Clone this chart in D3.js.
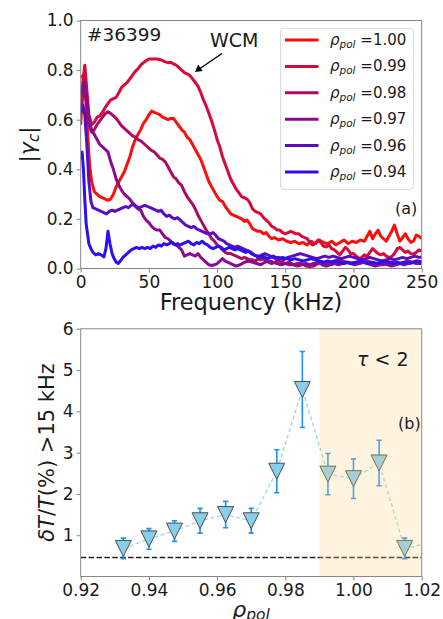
<!DOCTYPE html>
<html><head><meta charset="utf-8">
<script src="https://cdn.jsdelivr.net/npm/d3@7"></script>
<style>
body{margin:0;background:#fff}
svg{display:block}
text{font-family:"DejaVu Sans",sans-serif;fill:#1a1a1a}
</style>
</head><body>
<svg id="c" width="443" height="619"></svg>
<script>
// ---------- Panel (a) data: |gamma_c| vs frequency (kHz) ----------
const rho100 = [[0,0.77],[2,0.78],[3.5,0.70],[5,0.55],[6.5,0.42],[8,0.35],[10,0.31],[12,0.30],[14,0.29],[16,0.285],[18,0.28],[20,0.275],[22,0.28],[24,0.30],[26,0.33],[28,0.35],[30,0.37],[32,0.39],[34,0.42],[36,0.45],[38,0.49],[40,0.52],[42,0.54],[44,0.56],[46,0.585],[48,0.60],[50,0.62],[52,0.635],[54,0.63],[56,0.625],[58,0.62],[60,0.61],[62,0.605],[64,0.60],[66,0.605],[68,0.605],[70,0.59],[72,0.575],[74,0.56],[76,0.55],[78,0.53],[80,0.52],[82,0.50],[84,0.48],[86,0.46],[88,0.44],[90,0.41],[92,0.38],[94,0.35],[96,0.33],[98,0.31],[100,0.29],[102,0.275],[104,0.27],[106,0.25],[108,0.235],[110,0.22],[112,0.215],[114,0.21],[116,0.205],[118,0.20],[120,0.19],[122,0.195],[124,0.18],[126,0.16],[128,0.155],[130,0.15],[132,0.15],[134,0.14],[136,0.145],[138,0.13],[140,0.12],[142,0.125],[145,0.115],[148,0.12],[151,0.11],[154,0.105],[157,0.11],[160,0.10],[163,0.105],[166,0.095],[169,0.11],[172,0.10],[175,0.115],[178,0.105],[181,0.10],[184,0.11],[187,0.095],[190,0.105],[193,0.115],[196,0.10],[199,0.11],[202,0.105],[205,0.115],[208,0.11],[210,0.13],[212,0.15],[214,0.12],[216,0.14],[218,0.155],[220,0.13],[222,0.12],[224,0.11],[226,0.13],[228,0.15],[230,0.175],[232,0.14],[234,0.11],[236,0.125],[238,0.14],[240,0.12],[242,0.105],[244,0.11],[246,0.135],[248,0.13],[250,0.12]];
const rho099 = [[0,0.58],[1.5,0.75],[3,0.82],[4.5,0.72],[6,0.62],[8,0.58],[10,0.59],[12,0.61],[14,0.615],[16,0.63],[18,0.65],[20,0.665],[22,0.68],[24,0.685],[26,0.69],[28,0.71],[30,0.73],[32,0.74],[34,0.75],[36,0.765],[38,0.78],[40,0.795],[42,0.805],[44,0.82],[46,0.83],[48,0.838],[50,0.845],[52,0.845],[54,0.845],[56,0.845],[58,0.843],[60,0.838],[62,0.833],[64,0.83],[66,0.832],[68,0.825],[70,0.82],[72,0.81],[74,0.80],[76,0.79],[78,0.785],[80,0.778],[82,0.765],[84,0.75],[86,0.735],[88,0.71],[90,0.68],[92,0.655],[94,0.625],[96,0.595],[98,0.56],[100,0.52],[102,0.49],[104,0.45],[106,0.42],[108,0.39],[110,0.36],[112,0.34],[114,0.32],[116,0.305],[118,0.29],[120,0.285],[122,0.28],[124,0.265],[126,0.24],[128,0.23],[130,0.225],[132,0.22],[134,0.205],[136,0.195],[138,0.185],[140,0.17],[142,0.165],[144,0.155],[146,0.155],[148,0.145],[150,0.14],[152,0.145],[154,0.15],[156,0.145],[158,0.14],[160,0.14],[162,0.13],[164,0.125],[166,0.12],[168,0.105],[170,0.095],[172,0.10],[174,0.115],[176,0.105],[178,0.09],[180,0.087],[182,0.095],[184,0.08],[186,0.075],[188,0.065],[190,0.055],[192,0.07],[194,0.085],[196,0.075],[198,0.06],[200,0.06],[202,0.05],[204,0.04],[206,0.045],[208,0.055],[210,0.05],[212,0.065],[214,0.08],[216,0.07],[218,0.06],[220,0.055],[222,0.06],[224,0.05],[226,0.045],[228,0.048],[230,0.06],[232,0.08],[234,0.085],[236,0.075],[238,0.065],[240,0.07],[242,0.06],[244,0.058],[246,0.065],[248,0.075],[250,0.07]];
const rho098 = [[0,0.62],[1.5,0.70],[3,0.72],[4.5,0.66],[6,0.58],[8,0.55],[10,0.56],[12,0.58],[14,0.595],[16,0.61],[18,0.625],[20,0.632],[22,0.625],[24,0.615],[26,0.605],[28,0.59],[30,0.575],[32,0.565],[34,0.555],[36,0.545],[38,0.535],[40,0.53],[42,0.52],[44,0.515],[46,0.505],[48,0.495],[50,0.485],[52,0.475],[54,0.47],[56,0.458],[58,0.445],[60,0.44],[62,0.43],[64,0.41],[66,0.39],[68,0.37],[70,0.36],[72,0.345],[74,0.335],[76,0.31],[78,0.29],[80,0.275],[82,0.26],[84,0.24],[86,0.215],[88,0.195],[90,0.175],[92,0.155],[94,0.14],[96,0.12],[98,0.11],[100,0.095],[102,0.087],[104,0.075],[106,0.065],[108,0.06],[110,0.06],[112,0.055],[114,0.05],[116,0.045],[118,0.04],[120,0.045],[122,0.04],[124,0.035],[126,0.035],[128,0.03],[130,0.04],[132,0.035],[134,0.04],[136,0.03],[138,0.025],[140,0.02],[142,0.025],[144,0.03],[146,0.03],[148,0.025],[150,0.02],[153,0.015],[156,0.015],[159,0.02],[162,0.02],[165,0.01],[168,0.008],[171,0.01],[174,0.02],[177,0.025],[180,0.02],[183,0.025],[186,0.03],[189,0.035],[192,0.03],[195,0.025],[198,0.02],[201,0.025],[204,0.02],[207,0.025],[210,0.03],[213,0.025],[216,0.02],[219,0.015],[222,0.015],[225,0.02],[228,0.025],[231,0.02],[234,0.02],[237,0.025],[240,0.03],[243,0.025],[246,0.03],[250,0.025]];
const rho097 = [[0,0.70],[1.5,0.74],[3,0.75],[4.5,0.68],[6,0.60],[8,0.56],[10,0.54],[12,0.52],[14,0.50],[16,0.49],[18,0.48],[20,0.47],[22,0.43],[24,0.40],[26,0.36],[28,0.335],[30,0.315],[32,0.30],[34,0.29],[36,0.28],[38,0.265],[40,0.25],[42,0.24],[44,0.235],[46,0.21],[48,0.195],[50,0.185],[52,0.17],[54,0.16],[56,0.155],[58,0.155],[60,0.14],[62,0.125],[64,0.12],[66,0.11],[68,0.10],[70,0.095],[72,0.085],[74,0.075],[76,0.05],[78,0.055],[80,0.06],[82,0.055],[84,0.05],[86,0.06],[88,0.045],[90,0.035],[92,0.025],[94,0.015],[96,0.012],[98,0.015],[100,0.02],[102,0.03],[104,0.04],[106,0.03],[108,0.025],[110,0.02],[112,0.015],[114,0.01],[117,0.015],[120,0.025],[123,0.03],[126,0.025],[129,0.02],[132,0.015],[135,0.025],[138,0.03],[141,0.025],[144,0.02],[147,0.015],[150,0.02],[153,0.025],[156,0.015],[159,0.01],[162,0.015],[165,0.02],[168,0.015],[171,0.02],[174,0.025],[177,0.015],[180,0.01],[183,0.015],[186,0.02],[189,0.015],[192,0.02],[195,0.025],[198,0.02],[201,0.015],[204,0.02],[207,0.025],[210,0.02],[213,0.015],[216,0.01],[219,0.015],[222,0.02],[225,0.015],[228,0.01],[231,0.015],[234,0.02],[237,0.015],[240,0.02],[243,0.025],[246,0.02],[250,0.02]];
const rho096 = [[0,0.63],[1.5,0.66],[3,0.62],[4.5,0.50],[6,0.35],[7.5,0.27],[9,0.245],[11,0.24],[13,0.235],[15,0.23],[17,0.225],[19,0.22],[21,0.23],[23,0.235],[25,0.23],[27,0.235],[29,0.24],[31,0.245],[33,0.25],[35,0.245],[37,0.255],[39,0.26],[41,0.25],[43,0.245],[45,0.25],[47,0.255],[49,0.25],[51,0.245],[53,0.24],[55,0.235],[57,0.23],[59,0.235],[61,0.22],[63,0.21],[65,0.215],[67,0.205],[69,0.20],[71,0.205],[73,0.195],[75,0.185],[77,0.175],[79,0.17],[81,0.165],[83,0.17],[85,0.16],[87,0.155],[89,0.15],[91,0.145],[93,0.14],[95,0.14],[97,0.145],[99,0.135],[101,0.12],[103,0.115],[105,0.11],[107,0.10],[109,0.095],[111,0.09],[113,0.085],[115,0.09],[117,0.085],[119,0.08],[121,0.075],[123,0.07],[125,0.065],[127,0.055],[129,0.05],[131,0.05],[133,0.055],[135,0.06],[137,0.055],[139,0.05],[141,0.045],[143,0.04],[145,0.045],[147,0.04],[149,0.035],[152,0.045],[155,0.05],[158,0.055],[161,0.06],[164,0.055],[167,0.05],[170,0.045],[173,0.04],[176,0.045],[179,0.05],[182,0.045],[185,0.05],[188,0.045],[191,0.04],[194,0.045],[197,0.05],[200,0.045],[203,0.04],[206,0.035],[209,0.04],[212,0.045],[215,0.04],[218,0.035],[221,0.03],[224,0.035],[227,0.04],[230,0.035],[233,0.04],[236,0.045],[239,0.04],[242,0.045],[245,0.05],[248,0.045],[250,0.045]];
const rho094 = [[0,0.44],[1,0.47],[2,0.40],[3,0.28],[4,0.18],[5,0.14],[6,0.10],[7.5,0.08],[9,0.065],[11,0.055],[13,0.06],[15,0.055],[17,0.047],[18.5,0.08],[20,0.15],[21.5,0.10],[23,0.06],[24.5,0.04],[26,0.025],[27.5,0.02],[29,0.03],[31,0.045],[33,0.055],[35,0.065],[37,0.075],[39,0.08],[41,0.085],[43,0.08],[45,0.085],[47,0.08],[49,0.085],[51,0.08],[53,0.09],[55,0.085],[57,0.095],[59,0.09],[61,0.10],[63,0.095],[65,0.10],[67,0.105],[69,0.095],[71,0.10],[73,0.095],[75,0.10],[77,0.105],[79,0.11],[81,0.10],[83,0.095],[85,0.105],[87,0.10],[89,0.11],[91,0.10],[93,0.095],[95,0.085],[97,0.08],[99,0.085],[101,0.09],[103,0.085],[105,0.075],[107,0.08],[109,0.085],[111,0.08],[113,0.075],[115,0.08],[117,0.075],[119,0.07],[121,0.065],[123,0.07],[125,0.06],[127,0.055],[129,0.05],[131,0.045],[133,0.05],[135,0.045],[137,0.04],[139,0.045],[141,0.05],[143,0.045],[145,0.04],[148,0.045],[151,0.04],[154,0.035],[157,0.04],[160,0.035],[163,0.03],[166,0.035],[169,0.04],[172,0.035],[175,0.03],[178,0.025],[181,0.03],[184,0.025],[187,0.03],[190,0.025],[193,0.02],[196,0.025],[199,0.02],[202,0.025],[205,0.03],[208,0.025],[211,0.02],[214,0.025],[217,0.02],[220,0.025],[223,0.03],[226,0.025],[229,0.02],[232,0.025],[235,0.02],[238,0.025],[241,0.02],[244,0.025],[247,0.03],[250,0.025]];
const seriesA = [rho100, rho099, rho098, rho097, rho096, rho094];
const legendLabels = ["1.00","0.99","0.98","0.97","0.96","0.94"];
const lineColors = ["#ff0d0d","#d9093a","#ad0a62","#890c8e","#5a0cc2","#2a10f2"];
const freqTicks = [0,50,100,150,200,250];
const gammaTicks = [0,0.2,0.4,0.6,0.8,1.0];

// ---------- Panel (b) data ----------
const rhoPol = [0.9325,0.94,0.9475,0.955,0.9625,0.97,0.9775,0.985,0.9925,1.0,1.0075,1.015,1.0225];
const dTT    = [0.68,0.91,1.10,1.35,1.50,1.35,2.55,4.53,2.48,2.37,2.75,0.68,0.82];
const dTTerr = [0.25,0.25,0.25,0.30,0.32,0.30,0.52,0.92,0.50,0.48,0.55,0.25,0.20];
const noiseLevel = 0.46;
const tauStart = 0.99;
const rhoTicks = [0.92,0.94,0.96,0.98,1.00,1.02];
const dTTicks = [1,2,3,4,5,6];

const svg = d3.select("#c");
const defs = svg.append("defs");

// ===== Panel (a) =====
const A = {l:80.7, r:421.7, t:20.5, b:268.5};
const xA = d3.scaleLinear().domain([0,250]).range([A.l, A.r]);
const yA = d3.scaleLinear().domain([0,1]).range([A.b, A.t]);
defs.append("clipPath").attr("id","clipA").append("rect")
  .attr("x",A.l).attr("y",A.t).attr("width",A.r-A.l).attr("height",A.b-A.t);

const gA = svg.append("g");
const line = d3.line().x(d=>xA(d[0])).y(d=>yA(d[1]));
const cA = gA.append("g").attr("clip-path","url(#clipA)");
seriesA.forEach((s,i)=>{
  cA.append("path").datum(s).attr("d",line).attr("fill","none")
    .attr("stroke",lineColors[i]).attr("stroke-width",3)
    .attr("stroke-linejoin","round").attr("stroke-linecap","butt");
});

function styleAxis(g){
  g.select(".domain").remove();
  g.selectAll(".tick line").attr("stroke","#777").attr("stroke-width",0.9);
  g.selectAll(".tick text").attr("font-size","17px").attr("fill","#1a1a1a")
    .attr("font-family","DejaVu Sans");
}
gA.append("g").attr("transform",`translate(0,${A.b})`)
  .call(d3.axisBottom(xA).tickValues(freqTicks).tickFormat(d3.format("d")).tickSize(4).tickPadding(3))
  .call(styleAxis);
gA.append("g").attr("transform",`translate(${A.l},0)`)
  .call(d3.axisLeft(yA).tickValues(gammaTicks).tickFormat(d3.format(".1f")).tickSize(4).tickPadding(3))
  .call(styleAxis);
gA.append("rect").attr("x",A.l).attr("y",A.t).attr("width",A.r-A.l).attr("height",A.b-A.t)
  .attr("fill","none").attr("stroke","#888").attr("stroke-width",1);

// Legend
const lg = gA.append("g");
lg.append("rect").attr("x",280.7).attr("y",28.3).attr("width",132.6).attr("height",161)
  .attr("rx",3).attr("fill","#fff").attr("fill-opacity",0.8).attr("stroke","#d6d6d6").attr("stroke-width",1);
legendLabels.forEach((lab,i)=>{
  const y = 40 + i*26.4;
  lg.append("line").attr("x1",285).attr("x2",318.5).attr("y1",y).attr("y2",y)
    .attr("stroke",lineColors[i]).attr("stroke-width",3);
  const t = lg.append("text").attr("x",330).attr("y",y+5).attr("font-size","15px");
  t.append("tspan").attr("font-style","italic").text("ρ");
  t.append("tspan").attr("font-style","italic").attr("font-size","10.5px").attr("dy",3).text("pol");
  t.append("tspan").attr("dy",-3).text(" =" + lab);
});

// annotations
gA.append("text").attr("x",87).attr("y",41).attr("font-size","18.5px").text("#36399");
gA.append("text").attr("x",210).attr("y",47).attr("font-size","19px").text("WCM");
gA.append("line").attr("x1",222).attr("y1",53.5).attr("x2",200).attr("y2",68.5)
  .attr("stroke","#000").attr("stroke-width",1.5);
gA.append("path").attr("d","M195,72 L198.2,64.6 L202.6,71 Z").attr("fill","#000");
gA.append("text").attr("x",395).attr("y",214).attr("font-size","16px").text("(a)");

// axis labels
gA.append("text").attr("x",251).attr("y",309.5).attr("text-anchor","middle")
  .attr("font-size","22.5px").text("Frequency (kHz)");
const ylA = gA.append("text").attr("transform","translate(35,144.5) rotate(-90)")
  .attr("text-anchor","middle").attr("font-size","22px");
ylA.append("tspan").text("|");
ylA.append("tspan").attr("font-style","italic").text("γ");
ylA.append("tspan").attr("font-style","italic").attr("font-size","15px").attr("dy",4).text("c");
ylA.append("tspan").attr("dy",-4).text("|");

// ===== Panel (b) =====
const B = {l:80.7, r:421.7, t:328.8, b:576.5};
const xB = d3.scaleLinear().domain([0.92,1.02]).range([B.l, B.r]);
const yB = d3.scaleLinear().domain([0,6]).range([B.b, B.t]);
defs.append("clipPath").attr("id","clipB").append("rect")
  .attr("x",B.l).attr("y",B.t).attr("width",B.r-B.l).attr("height",B.b-B.t);
const gB = svg.append("g");
const cB = gB.append("g").attr("clip-path","url(#clipB)");

// noise level dashed line
cB.append("line").attr("x1",xB(0.92)).attr("x2",xB(1.02)).attr("y1",yB(noiseLevel)).attr("y2",yB(noiseLevel))
  .attr("stroke","#222").attr("stroke-width",1.5).attr("stroke-dasharray","5.5,2.4");
// connecting dashed line
const pts = rhoPol.map((r,i)=>({r, v:dTT[i], e:dTTerr[i]}));
cB.append("path").datum(pts)
  .attr("d", d3.line().x(d=>xB(d.r)).y(d=>yB(d.v)))
  .attr("fill","none").attr("stroke","#87ceeb").attr("stroke-opacity",0.85)
  .attr("stroke-width",1.3).attr("stroke-dasharray","4,2.6");
// error bars
const eb = cB.append("g").attr("stroke","#1e90ff").attr("stroke-width",1.6);
pts.forEach(d=>{
  const x = xB(d.r);
  eb.append("line").attr("x1",x).attr("x2",x).attr("y1",yB(d.v-d.e)).attr("y2",yB(d.v+d.e));
  eb.append("line").attr("x1",x-2.6).attr("x2",x+2.6).attr("y1",yB(d.v-d.e)).attr("y2",yB(d.v-d.e));
  eb.append("line").attr("x1",x-2.6).attr("x2",x+2.6).attr("y1",yB(d.v+d.e)).attr("y2",yB(d.v+d.e));
});
// markers (triangle down)
cB.selectAll("path.mk").data(pts).join("path").attr("class","mk")
  .attr("d", d=>{const x=xB(d.r), y=yB(d.v), h=8; return `M${x-h},${y-h}L${x+h},${y-h}L${x},${y+h}Z`;})
  .attr("fill","#87ceeb").attr("stroke","#4d4d4d").attr("stroke-width",1);
// shaded tau<2 region drawn on top
cB.append("rect").attr("x",xB(tauStart)).attr("y",B.t).attr("width",xB(1.02)-xB(tauStart)).attr("height",B.b-B.t)
  .attr("fill","#ffd27f").attr("fill-opacity",0.25);

gB.append("g").attr("transform",`translate(0,${B.b})`)
  .call(d3.axisBottom(xB).tickValues(rhoTicks).tickFormat(d3.format(".2f")).tickSize(4).tickPadding(3))
  .call(styleAxis);
gB.append("g").attr("transform",`translate(${B.l},0)`)
  .call(d3.axisLeft(yB).tickValues(dTTicks).tickFormat(d3.format("d")).tickSize(4).tickPadding(3))
  .call(styleAxis);
gB.append("rect").attr("x",B.l).attr("y",B.t).attr("width",B.r-B.l).attr("height",B.b-B.t)
  .attr("fill","none").attr("stroke","#888").attr("stroke-width",1);

// annotations b
const tau = gB.append("text").attr("x",357).attr("y",366).attr("font-size","19px");
tau.append("tspan").attr("font-style","italic").text("τ");
tau.append("tspan").text(" < 2");
gB.append("text").attr("x",398).attr("y",429).attr("font-size","16px").text("(b)");

// axis labels b
const xlB = gB.append("text").attr("x",251).attr("y",617).attr("text-anchor","middle").attr("font-size","22px");
xlB.append("tspan").attr("font-style","italic").text("ρ");
xlB.append("tspan").attr("font-style","italic").attr("font-size","15.5px").attr("dy",3).text("pol");
const ylB = gB.append("text").attr("transform","translate(54,452.5) rotate(-90)")
  .attr("text-anchor","middle").attr("font-size","21px");
ylB.append("tspan").attr("font-style","italic").text("δT");
ylB.append("tspan").text("/");
ylB.append("tspan").attr("font-style","italic").text("T");
ylB.append("tspan").text("(%) >15 kHz");
</script>
</body></html>
